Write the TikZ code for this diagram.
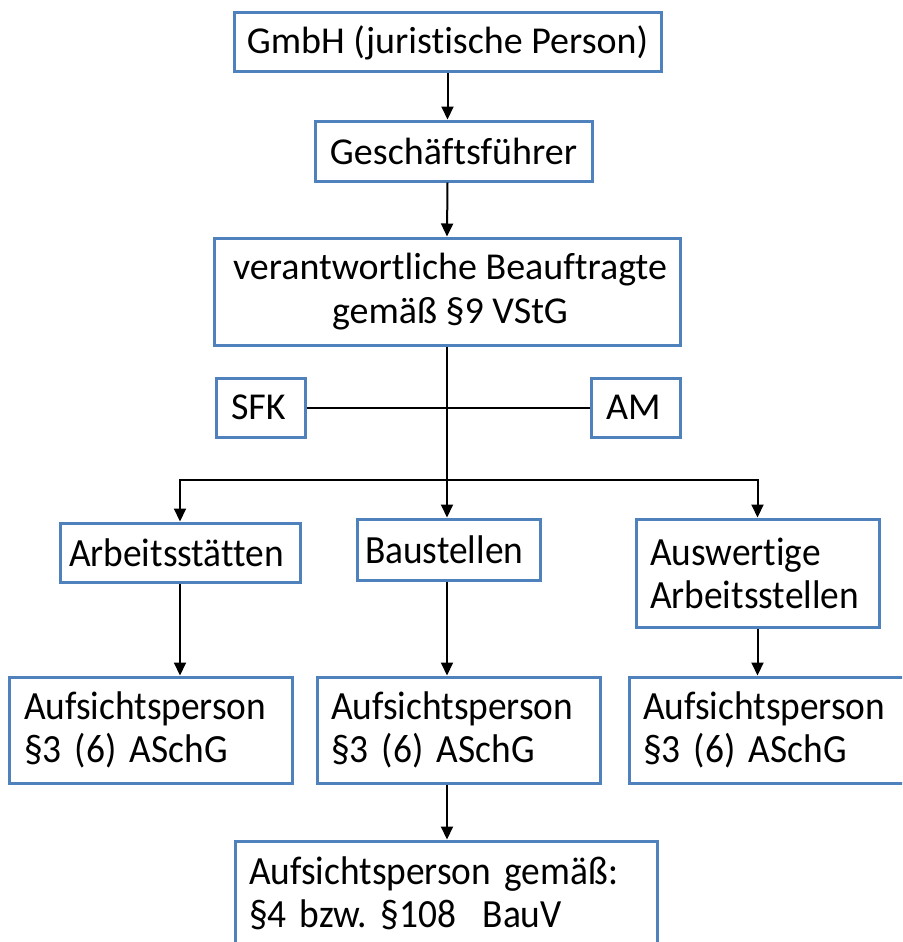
\documentclass[tikz,border=0pt]{standalone}
\usepackage{fontspec}
\setmainfont{Carlito}[Ligatures=NoCommon]
\newfontfamily\narrowfont{Carlito}[FakeStretch=0.935, WordSpace=0.6, Ligatures=NoCommon]
\frenchspacing
\usetikzlibrary{arrows.meta}
\definecolor{boxblue}{RGB}{79,129,189}
\begin{document}
\begin{tikzpicture}[x=1pt,y=-1pt,
  box/.style={draw=boxblue, line width=3pt, fill=white, inner ysep=0pt,
    font=\fontsize{38}{44}\selectfont},
  cbox/.style={box, inner xsep=0pt, align=center},
  lbox/.style={box, align=left},
  nbox/.style={lbox, font=\narrowfont\fontsize{40}{43}\selectfont},
  conn/.style={line width=2pt, black},
  arr/.style={conn, -{Triangle[length=13pt,width=12pt]}}]
\useasboundingbox (0,0) rectangle (902,942);
\clip (0,0) rectangle (902,942);

% upper chain
\node[cbox, minimum width=427pt, minimum height=59pt] (gmbh) at (447.5,42.5) {GmbH (juristische Person)};
\node[cbox, minimum width=277pt, minimum height=60pt] (gf) at (453.5,151) {Geschäftsführer};
\node[cbox, minimum width=466pt, minimum height=107pt] (vb) at (447,291.5)
  {\hspace*{6pt}verantwortliche Beauftragte\\\hspace*{6pt}gemäß §9 VStG};

% staff units on the side line
\node[lbox, minimum width=89pt, minimum height=59pt, inner xsep=15pt, text width=59pt] (sfk) at (260.5,407.5) {SFK};
\node[lbox, minimum width=89pt, minimum height=59pt, inner xsep=15pt, text width=59pt] (am) at (635.5,407.5) {AM};

% second level
\node[nbox, minimum width=240pt, minimum height=59pt, inner xsep=9pt, text width=222pt] (arb) at (180,552.5) {Arbeitsstätten};
\node[nbox, minimum width=183pt, minimum height=61pt, inner xsep=8pt, text width=167pt] (bau) at (448.5,549.5) {Baustellen};
\node[nbox, minimum width=243pt, minimum height=108pt, inner xsep=14pt, text width=215pt] (ausw) at (757.5,573) {Auswertige\\Arbeitsstellen};

% supervisors
\node[nbox, minimum width=283pt, minimum height=106pt, inner xsep=15pt, text width=253pt] (a1) at (150.5,730) {Aufsichtsperson\\§3 (6) ASchG};
\node[nbox, minimum width=283pt, minimum height=106pt, inner xsep=14pt, text width=255pt] (a2) at (458.5,730) {Aufsichtsperson\\§3 (6) ASchG};
\node[nbox, minimum width=283pt, minimum height=106pt, inner xsep=14pt, text width=255pt] (a3) at (770.5,730) {Aufsichtsperson\\§3 (6) ASchG};
\node[nbox, minimum width=422pt, minimum height=104pt, inner xsep=14pt, text width=394pt] (bv) at (446,893) {Aufsichtsperson gemäß:\\§4 bzw. §108\ \ BauV};

% connectors
\draw[arr] (gmbh.south) -- (gmbh.south |- gf.north);
\draw[arr] (gmbh.south |- gf.south) -- (vb.north);
\draw[conn] (sfk.east) -- (am.west);
\coordinate (split) at (447,480);
\draw[arr] (vb.south) -- (vb.south |- bau.north);
\draw[arr] (split) -| (arb.north);
\draw[arr] (split) -| (ausw.north);
\draw[arr] (arb.south) -- (arb.south |- a1.north);
\draw[arr] (vb.south |- bau.south) -- (vb.south |- a2.north);
\draw[arr] (ausw.south) -- (ausw.south |- a3.north);
\draw[arr] (vb.south |- a2.south) -- (vb.south |- bv.north);
\end{tikzpicture}
\end{document}
